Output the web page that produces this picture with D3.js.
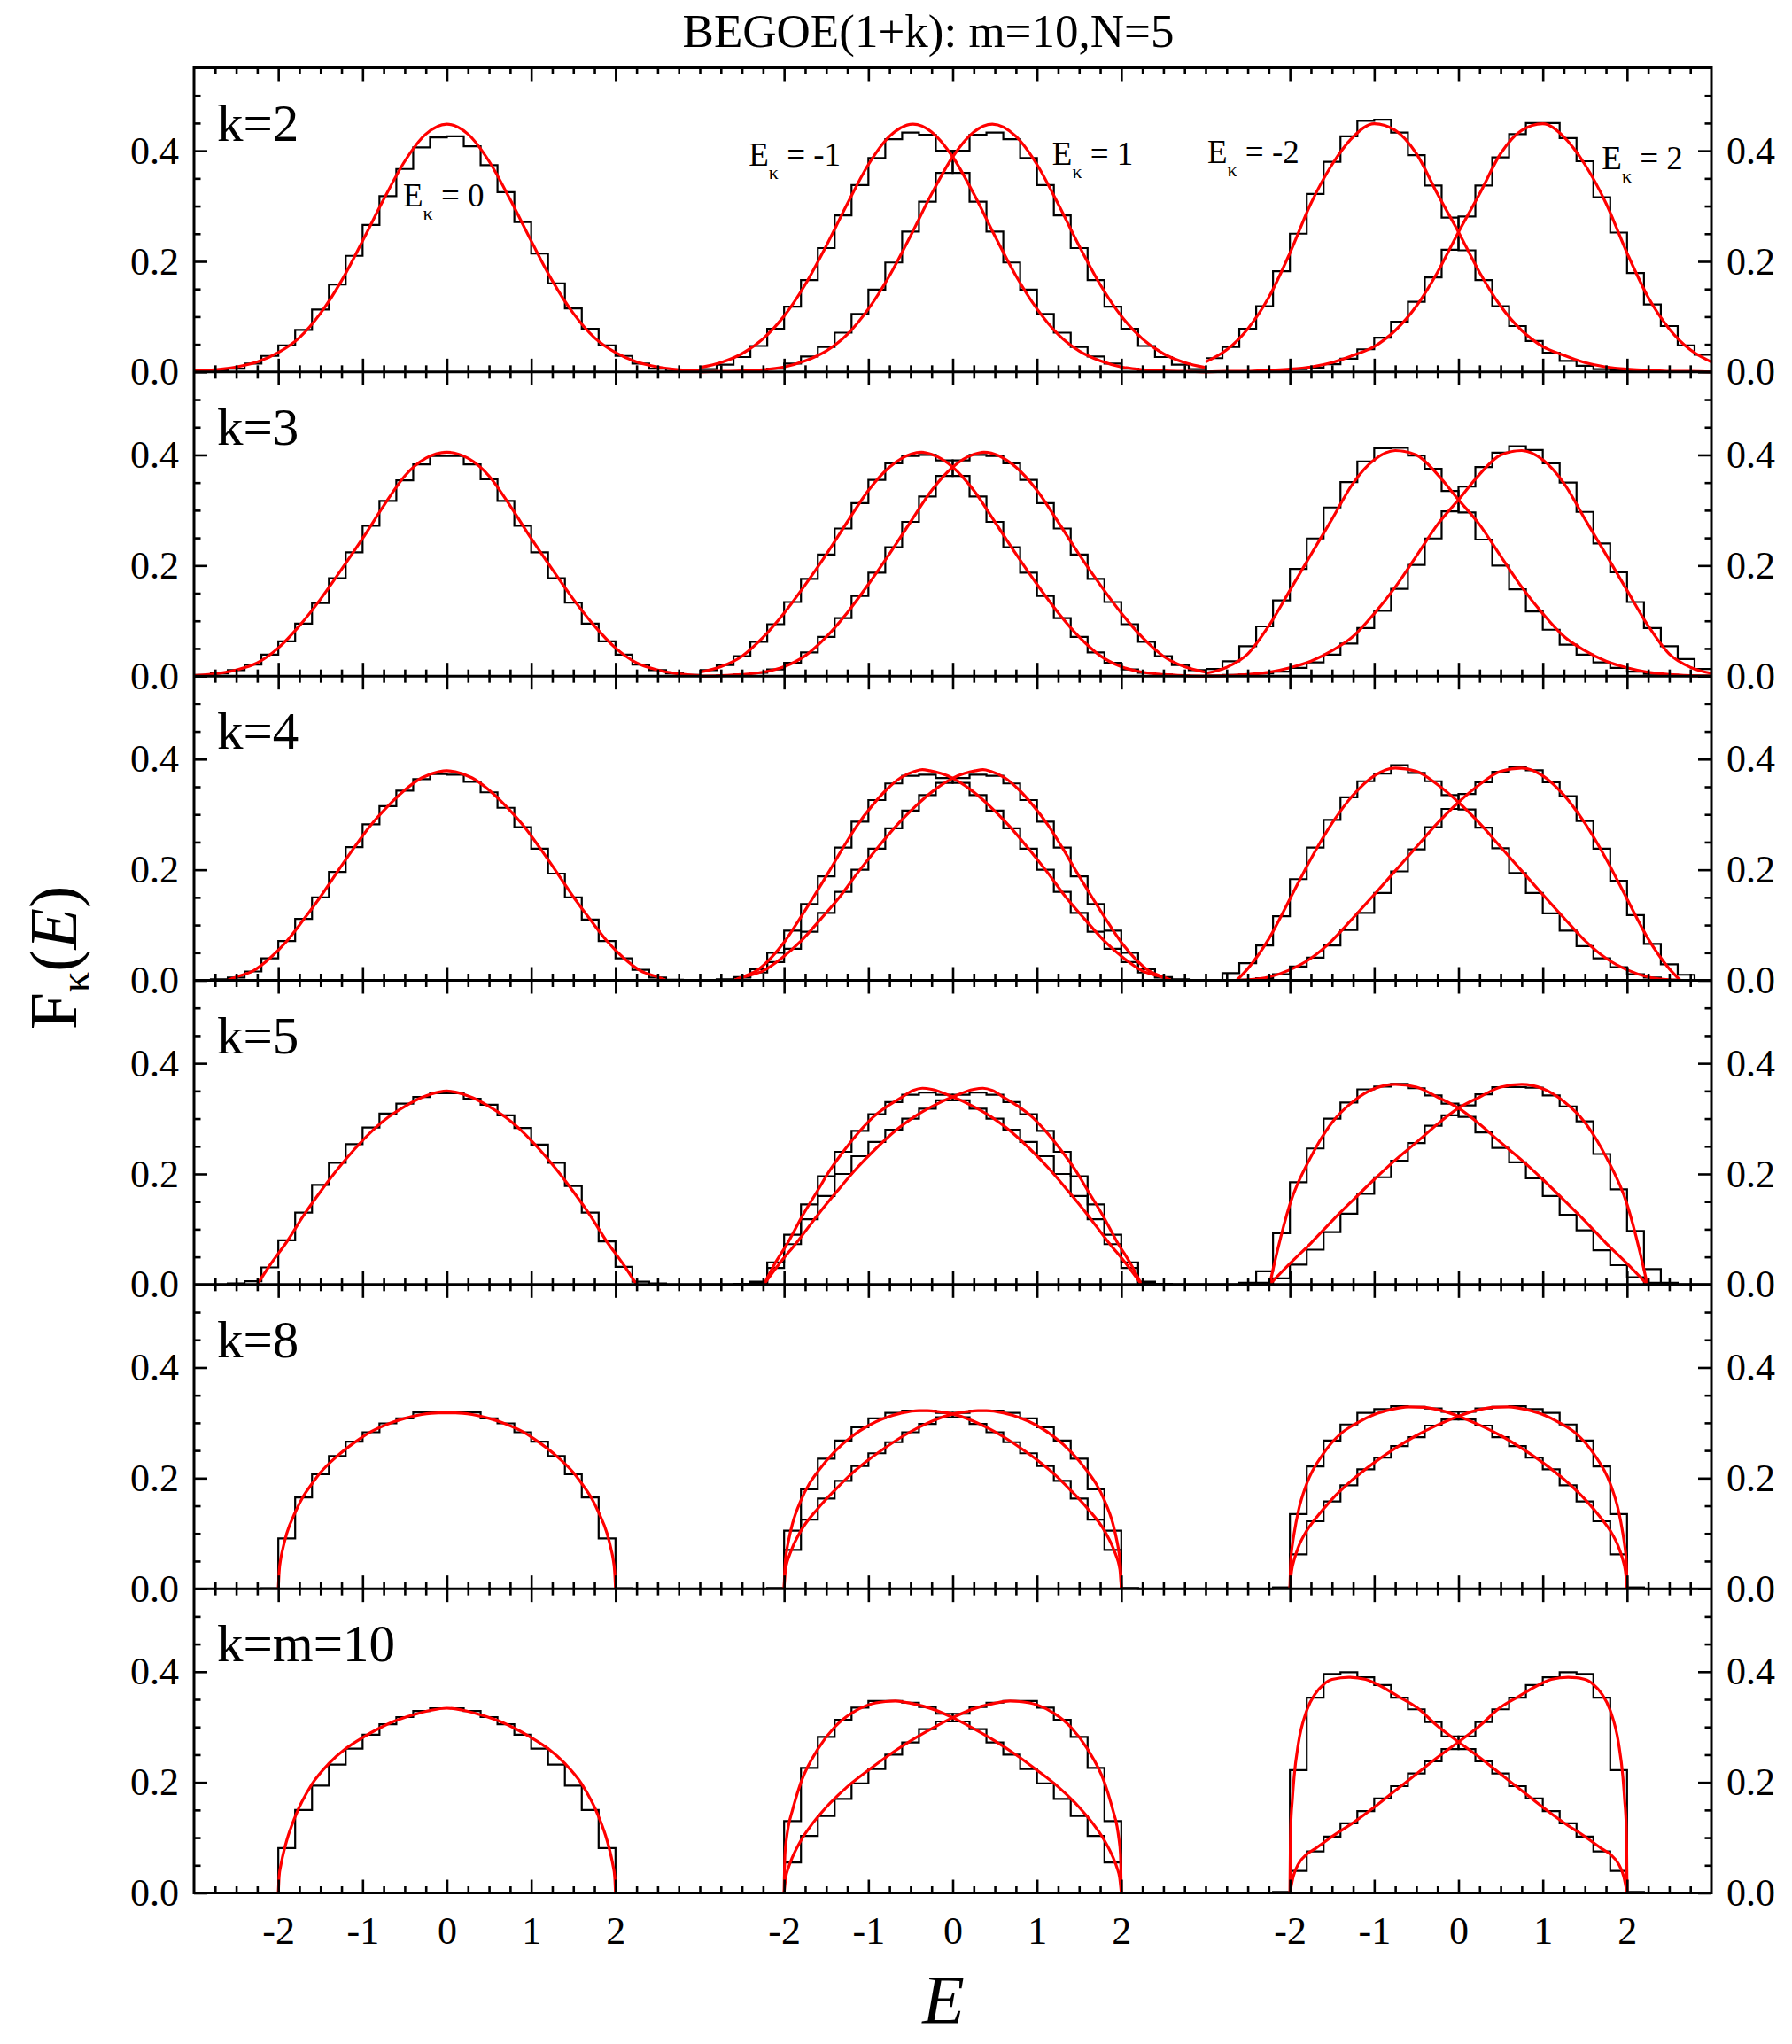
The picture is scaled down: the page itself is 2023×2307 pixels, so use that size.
<!DOCTYPE html>
<meta charset="utf-8">
<head>
<style>
body { margin: 0; background: #fff; }
text { font-family: "Liberation Serif", "Times New Roman", serif; fill: #000; }
</style>
</head>
<body>
<script src="https://d3js.org/d3.v7.min.js"></script>
<script>

// ---- data ----------------------------------------------------------------
// histograms: 30 bins of width 0.2 from -3 to 3, relative to the block centre
// fits: [E, F] pairs, E relative to the block centre

var panelLabels = ["k=2", "k=3", "k=4", "k=5", "k=8", "k=m=10"];
var blockCentre = [0, 6, 6, 12, 12];          // series order: Ek=0, -1, +1, -2, +2
var ekText = ["0", "-1", "1", "-2", "2"];
var xMajor = [-2, -1, 0, 1, 2, 4, 5, 6, 7, 8, 10, 11, 12, 13, 14];
var yMajor = [0, 0.2, 0.4];
var yMinor = [0.05, 0.1, 0.15, 0.25, 0.3, 0.35, 0.45, 0.5];

// k = 2
var h2_0  = [0.001,0.003,0.006,0.015,0.029,0.048,0.076,0.113,0.158,0.210,0.266,0.318,0.367,0.406,0.424,0.426,0.408,0.374,0.325,0.271,0.214,0.160,0.115,0.078,0.048,0.029,0.015,0.006,0.002,0.000];
var h2_m1 = [0.005,0.013,0.027,0.047,0.078,0.118,0.166,0.224,0.283,0.338,0.387,0.421,0.433,0.429,0.400,0.360,0.308,0.254,0.198,0.149,0.105,0.071,0.045,0.028,0.015,0.006,0.002,0.001,0.001,0.000];
var h2_p1 = [0.000,0.001,0.001,0.002,0.006,0.015,0.028,0.045,0.071,0.105,0.149,0.198,0.254,0.308,0.360,0.400,0.429,0.433,0.421,0.387,0.338,0.283,0.224,0.166,0.118,0.078,0.047,0.027,0.013,0.005];
var h2_m2 = [0.025,0.045,0.078,0.119,0.182,0.250,0.322,0.380,0.426,0.454,0.456,0.433,0.392,0.337,0.279,0.220,0.166,0.119,0.083,0.056,0.035,0.020,0.011,0.005,0.003,0.001,0,0,0,0];
var h2_p2 = [0,0,0,0.001,0.002,0.005,0.008,0.014,0.024,0.041,0.062,0.091,0.127,0.171,0.221,0.281,0.337,0.388,0.430,0.450,0.450,0.423,0.381,0.316,0.252,0.179,0.122,0.083,0.048,0.031];
var f2_0  = [[-3,0.002],[-2.75,0.004],[-2.5,0.009],[-2.25,0.018],[-2,0.035],[-1.75,0.062],[-1.5,0.106],[-1.25,0.165],[-1,0.237],[-0.75,0.312],[-0.5,0.381],[-0.25,0.43],[0,0.448],[0.25,0.43],[0.5,0.381],[0.75,0.312],[1,0.237],[1.25,0.165],[1.5,0.106],[1.75,0.062],[2,0.035],[2.25,0.018],[2.5,0.009],[2.75,0.004],[3,0.002]];
var f2_m1 = [[-3,0.008],[-2.75,0.017],[-2.5,0.033],[-2.25,0.06],[-2,0.101],[-1.75,0.158],[-1.5,0.228],[-1.25,0.304],[-1,0.375],[-0.75,0.426],[-0.47,0.448],[-0.25,0.434],[0,0.389],[0.25,0.322],[0.5,0.246],[0.75,0.174],[1,0.114],[1.25,0.068],[1.5,0.038],[1.75,0.02],[2,0.009],[2.25,0.004],[2.5,0.002],[2.75,0.001],[3,0]];
var f2_p1 = [[-3,0],[-2.75,0.001],[-2.5,0.002],[-2.25,0.004],[-2,0.009],[-1.75,0.02],[-1.5,0.038],[-1.25,0.068],[-1,0.114],[-0.75,0.174],[-0.5,0.246],[-0.25,0.322],[0,0.389],[0.25,0.434],[0.47,0.448],[0.75,0.426],[1,0.375],[1.25,0.304],[1.5,0.228],[1.75,0.158],[2,0.101],[2.25,0.06],[2.5,0.033],[2.75,0.017],[3,0.008]];
var f2_m2 = [[-3,0.018],[-2.75,0.04],[-2.5,0.078],[-2.25,0.135],[-2,0.215],[-1.75,0.305],[-1.5,0.375],[-1.25,0.425],[-1,0.449],[-0.75,0.437],[-0.5,0.395],[-0.25,0.322],[0,0.253],[0.25,0.18],[0.5,0.119],[0.75,0.075],[1,0.046],[1.25,0.03],[1.5,0.017],[1.75,0.009],[2,0.005],[2.25,0.003],[2.5,0.001],[2.75,0.001],[3,0]];
var f2_p2 = [[-3,0],[-2.75,0.001],[-2.5,0.001],[-2.25,0.003],[-2,0.005],[-1.75,0.009],[-1.5,0.017],[-1.25,0.03],[-1,0.046],[-0.75,0.075],[-0.5,0.119],[-0.25,0.18],[0,0.253],[0.25,0.322],[0.5,0.395],[0.75,0.437],[1,0.449],[1.25,0.425],[1.5,0.375],[1.75,0.305],[2,0.215],[2.25,0.135],[2.5,0.078],[2.75,0.04],[3,0.018]];

// k = 3
var h3_0  = [0.002,0.005,0.011,0.021,0.039,0.063,0.095,0.132,0.177,0.224,0.272,0.317,0.354,0.383,0.398,0.398,0.383,0.356,0.317,0.272,0.224,0.177,0.133,0.095,0.063,0.039,0.021,0.011,0.005,0.002];
var h3_m1 = [0.011,0.020,0.036,0.062,0.094,0.134,0.176,0.220,0.267,0.313,0.355,0.385,0.398,0.400,0.390,0.362,0.325,0.279,0.233,0.187,0.145,0.105,0.071,0.043,0.024,0.012,0.006,0.003,0.001,0.000];
var h3_p1 = [0.000,0.001,0.003,0.006,0.012,0.024,0.043,0.071,0.105,0.145,0.187,0.233,0.279,0.325,0.362,0.390,0.400,0.398,0.385,0.355,0.313,0.267,0.220,0.176,0.134,0.094,0.062,0.036,0.020,0.011];
var h3_m2 = [0.013,0.027,0.054,0.090,0.137,0.194,0.249,0.305,0.351,0.388,0.412,0.413,0.399,0.375,0.335,0.296,0.247,0.200,0.157,0.117,0.084,0.057,0.039,0.025,0.015,0.008,0.004,0.002,0.001,0.001];
var h3_p2 = [0.001,0.002,0.003,0.005,0.008,0.015,0.025,0.039,0.059,0.087,0.118,0.158,0.201,0.249,0.298,0.343,0.378,0.404,0.416,0.409,0.385,0.350,0.297,0.240,0.188,0.134,0.087,0.054,0.031,0.013];
var f3_0  = [[-3,0.001],[-2.75,0.004],[-2.5,0.011],[-2.25,0.024],[-2,0.051],[-1.75,0.091],[-1.5,0.139],[-1.25,0.193],[-1,0.249],[-0.75,0.308],[-0.5,0.362],[-0.25,0.394],[0,0.405],[0.25,0.394],[0.5,0.362],[0.75,0.308],[1,0.249],[1.25,0.193],[1.5,0.139],[1.75,0.091],[2,0.051],[2.25,0.024],[2.5,0.011],[2.75,0.004],[3,0.001]];
var f3_m1 = [[-3,0.007],[-2.75,0.017],[-2.5,0.036],[-2.25,0.07],[-2,0.114],[-1.75,0.165],[-1.5,0.22],[-1.25,0.279],[-1,0.336],[-0.75,0.378],[-0.37,0.405],[-0.25,0.401],[0,0.378],[0.25,0.336],[0.5,0.279],[0.75,0.221],[1,0.166],[1.25,0.115],[1.5,0.071],[1.75,0.037],[2,0.017],[2.25,0.007],[2.5,0.003],[2.75,0.001],[3,0]];
var f3_p1 = [[-3,0],[-2.75,0.001],[-2.5,0.003],[-2.25,0.007],[-2,0.017],[-1.75,0.037],[-1.5,0.071],[-1.25,0.115],[-1,0.166],[-0.75,0.221],[-0.5,0.279],[-0.25,0.336],[0,0.378],[0.25,0.401],[0.37,0.405],[0.75,0.378],[1,0.336],[1.25,0.279],[1.5,0.22],[1.75,0.165],[2,0.114],[2.25,0.07],[2.5,0.036],[2.75,0.017],[3,0.007]];
var f3_m2 = [[-3,0.005],[-2.75,0.016],[-2.5,0.04],[-2.25,0.091],[-2,0.155],[-1.75,0.22],[-1.5,0.284],[-1.25,0.349],[-1,0.391],[-0.75,0.408],[-0.5,0.4],[-0.25,0.365],[0,0.319],[0.25,0.274],[0.5,0.217],[0.75,0.161],[1,0.113],[1.25,0.072],[1.5,0.046],[1.75,0.027],[2,0.015],[2.25,0.007],[2.5,0.003],[2.75,0.001],[3,0]];
var f3_p2 = [[-3,0],[-2.75,0.001],[-2.5,0.003],[-2.25,0.007],[-2,0.015],[-1.75,0.027],[-1.5,0.046],[-1.25,0.072],[-1,0.113],[-0.75,0.161],[-0.5,0.217],[-0.25,0.274],[0,0.319],[0.25,0.365],[0.5,0.4],[0.75,0.408],[1,0.391],[1.25,0.349],[1.5,0.284],[1.75,0.22],[2,0.155],[2.25,0.091],[2.5,0.04],[2.75,0.016],[3,0.005]];

// k = 4
var h4_0  = [0,0.002,0.005,0.016,0.040,0.071,0.111,0.150,0.196,0.241,0.282,0.315,0.343,0.364,0.373,0.372,0.359,0.340,0.312,0.277,0.238,0.193,0.150,0.110,0.071,0.040,0.019,0.005,0.001,0];
var h4_m1 = [0,0,0.006,0.020,0.050,0.090,0.138,0.188,0.240,0.287,0.326,0.356,0.370,0.372,0.366,0.357,0.335,0.307,0.275,0.238,0.200,0.160,0.122,0.088,0.057,0.033,0.014,0.005,0.002,0];
var h4_p1 = [0,0.002,0.005,0.014,0.033,0.057,0.088,0.122,0.160,0.200,0.238,0.275,0.307,0.335,0.357,0.366,0.372,0.370,0.356,0.326,0.287,0.240,0.188,0.138,0.090,0.050,0.020,0.006,0,0];
var h4_m2 = [0,0.013,0.031,0.063,0.116,0.183,0.240,0.290,0.331,0.360,0.374,0.389,0.375,0.360,0.335,0.309,0.276,0.239,0.194,0.158,0.121,0.090,0.062,0.040,0.024,0.011,0.005,0.001,0,0];
var h4_p2 = [0,0,0.001,0.004,0.011,0.025,0.041,0.063,0.091,0.122,0.158,0.197,0.237,0.277,0.310,0.337,0.358,0.377,0.385,0.380,0.358,0.333,0.288,0.238,0.180,0.118,0.066,0.029,0.010,0];
var f4_0  = [[-2.6,0],[-2.5,0.006],[-2.3,0.017],[-2.1,0.04],[-1.9,0.071],[-1.7,0.11],[-1.5,0.151],[-1.3,0.196],[-1.1,0.24],[-0.9,0.281],[-0.7,0.315],[-0.5,0.344],[-0.3,0.366],[-0.1,0.377],[0,0.379],[0.1,0.377],[0.3,0.366],[0.5,0.344],[0.7,0.315],[0.9,0.281],[1.1,0.24],[1.3,0.196],[1.5,0.151],[1.7,0.11],[1.9,0.071],[2.1,0.04],[2.3,0.017],[2.5,0.006],[2.6,0]];
var f4_m1 = [[-2.59,0],[-2.5,0.006],[-2.33,0.017],[-2.16,0.04],[-1.99,0.071],[-1.82,0.11],[-1.65,0.151],[-1.47,0.196],[-1.3,0.24],[-1.13,0.281],[-0.96,0.315],[-0.79,0.344],[-0.62,0.366],[-0.45,0.378],[-0.36,0.381],[-0.27,0.379],[-0.02,0.367],[0.21,0.345],[0.44,0.315],[0.66,0.281],[0.89,0.24],[1.12,0.196],[1.34,0.151],[1.57,0.11],[1.8,0.071],[2.03,0.04],[2.25,0.017],[2.48,0.006],[2.59,0]];
var f4_p1 = [[-2.59,0],[-2.48,0.006],[-2.25,0.017],[-2.03,0.04],[-1.8,0.071],[-1.57,0.11],[-1.34,0.151],[-1.12,0.196],[-0.89,0.24],[-0.66,0.281],[-0.44,0.315],[-0.21,0.345],[0.02,0.367],[0.27,0.379],[0.36,0.381],[0.45,0.378],[0.62,0.366],[0.79,0.344],[0.96,0.315],[1.13,0.281],[1.3,0.24],[1.47,0.196],[1.65,0.151],[1.82,0.11],[1.99,0.071],[2.16,0.04],[2.33,0.017],[2.5,0.006],[2.59,0]];
var f4_m2 = [[-2.63,0],[-2.5,0.021],[-2.25,0.075],[-2,0.147],[-1.75,0.22],[-1.5,0.284],[-1.25,0.335],[-1,0.37],[-0.75,0.384],[-0.5,0.378],[-0.25,0.354],[0,0.322],[0.25,0.284],[0.5,0.241],[0.75,0.198],[1,0.155],[1.25,0.113],[1.5,0.072],[1.75,0.04],[2,0.019],[2.25,0.006],[2.5,0.001],[2.63,0]];
var f4_p2 = [[-2.63,0],[-2.5,0.001],[-2.25,0.006],[-2,0.019],[-1.75,0.04],[-1.5,0.072],[-1.25,0.113],[-1,0.155],[-0.75,0.198],[-0.5,0.241],[-0.25,0.284],[0,0.322],[0.25,0.354],[0.5,0.378],[0.75,0.384],[1,0.37],[1.25,0.335],[1.5,0.284],[1.75,0.22],[2,0.147],[2.25,0.075],[2.5,0.021],[2.63,0]];

// k = 5
var h5_0  = [0,0,0.002,0.006,0.031,0.080,0.130,0.180,0.220,0.254,0.284,0.309,0.327,0.339,0.346,0.346,0.336,0.325,0.306,0.283,0.253,0.220,0.178,0.130,0.078,0.032,0.005,0.002,0,0];
var h5_m1 = [0,0,0,0.003,0.040,0.090,0.145,0.196,0.240,0.278,0.308,0.330,0.343,0.347,0.343,0.333,0.318,0.300,0.280,0.258,0.232,0.200,0.160,0.118,0.073,0.030,0.005,0.001,0,0];
var h5_p1 = [0,0,0.001,0.005,0.030,0.073,0.118,0.160,0.200,0.232,0.258,0.280,0.300,0.318,0.333,0.343,0.347,0.343,0.330,0.308,0.278,0.240,0.196,0.145,0.090,0.040,0.003,0,0,0];
var h5_m2 = [0,0,0.003,0.024,0.093,0.185,0.246,0.300,0.329,0.353,0.358,0.363,0.355,0.342,0.327,0.303,0.275,0.247,0.221,0.192,0.160,0.126,0.098,0.062,0.035,0.013,0.003,0,0,0];
var h5_p2 = [0,0,0.001,0.003,0.011,0.036,0.063,0.095,0.128,0.164,0.194,0.224,0.256,0.287,0.306,0.324,0.344,0.357,0.357,0.356,0.342,0.322,0.295,0.236,0.172,0.097,0.028,0.003,0,0];
var f5_0  = [[-2.25,0],[-2.1,0.035],[-1.9,0.077],[-1.7,0.125],[-1.5,0.168],[-1.3,0.208],[-1.1,0.244],[-0.9,0.276],[-0.7,0.302],[-0.5,0.322],[-0.3,0.338],[-0.1,0.348],[0,0.35],[0.1,0.348],[0.3,0.338],[0.5,0.322],[0.7,0.302],[0.9,0.276],[1.1,0.244],[1.3,0.208],[1.5,0.168],[1.7,0.125],[1.9,0.077],[2.1,0.035],[2.25,0]];
var f5_m1 = [[-2.24,0],[-2.12,0.035],[-1.95,0.077],[-1.78,0.125],[-1.61,0.168],[-1.45,0.208],[-1.28,0.244],[-1.11,0.276],[-0.95,0.302],[-0.78,0.322],[-0.61,0.338],[-0.47,0.351],[-0.36,0.355],[-0.25,0.353],[-0.01,0.34],[0.22,0.324],[0.45,0.304],[0.68,0.278],[0.91,0.246],[1.14,0.21],[1.37,0.169],[1.6,0.126],[1.84,0.078],[2.07,0.035],[2.24,0]];
var f5_p1 = [[-2.24,0],[-2.07,0.035],[-1.84,0.078],[-1.6,0.126],[-1.37,0.169],[-1.14,0.21],[-0.91,0.246],[-0.68,0.278],[-0.45,0.304],[-0.22,0.324],[0.01,0.34],[0.25,0.353],[0.36,0.355],[0.47,0.351],[0.61,0.338],[0.78,0.322],[0.95,0.302],[1.11,0.276],[1.28,0.244],[1.45,0.208],[1.61,0.168],[1.78,0.125],[1.95,0.077],[2.12,0.035],[2.24,0]];
var f5_m2 = [[-2.24,0],[-2.15,0.06],[-2,0.145],[-1.75,0.231],[-1.5,0.293],[-1.25,0.331],[-1,0.354],[-0.75,0.362],[-0.5,0.357],[-0.25,0.339],[0,0.319],[0.25,0.29],[0.5,0.257],[0.75,0.225],[1,0.19],[1.25,0.153],[1.5,0.115],[1.75,0.075],[2,0.038],[2.24,0]];
var f5_p2 = [[-2.24,0],[-2,0.038],[-1.75,0.075],[-1.5,0.115],[-1.25,0.153],[-1,0.19],[-0.75,0.225],[-0.5,0.257],[-0.25,0.29],[0,0.319],[0.25,0.339],[0.5,0.357],[0.75,0.362],[1,0.354],[1.25,0.331],[1.5,0.293],[1.75,0.231],[2,0.145],[2.15,0.06],[2.24,0]];

// k = 8
var h8_0  = [0,0,0,0,0.001,0.091,0.165,0.207,0.240,0.266,0.283,0.299,0.308,0.319,0.319,0.319,0.319,0.308,0.299,0.283,0.266,0.240,0.207,0.165,0.091,0.001,0,0,0,0];
var h8_m1 = [0,0,0,0,0.001,0.105,0.180,0.235,0.268,0.292,0.308,0.318,0.322,0.322,0.318,0.310,0.298,0.283,0.265,0.245,0.222,0.195,0.163,0.125,0.070,0.001,0,0,0,0];
var h8_p1 = [0,0,0,0,0.001,0.070,0.125,0.163,0.195,0.222,0.245,0.265,0.283,0.298,0.310,0.318,0.322,0.322,0.318,0.308,0.292,0.268,0.235,0.180,0.105,0.001,0,0,0,0];
var h8_m2 = [0,0,0,0,0.002,0.135,0.221,0.268,0.297,0.318,0.325,0.330,0.329,0.326,0.320,0.306,0.295,0.274,0.258,0.237,0.216,0.187,0.158,0.122,0.062,0.002,0,0,0,0];
var h8_p2 = [0,0,0,0,0.002,0.062,0.122,0.158,0.187,0.216,0.237,0.258,0.274,0.295,0.306,0.320,0.326,0.329,0.330,0.325,0.318,0.297,0.268,0.221,0.135,0.002,0,0,0,0];
var f8_0  = [[-2,0],[-1.99,0.03],[-1.97,0.055],[-1.95,0.07],[-1.9,0.1],[-1.8,0.138],[-1.7,0.168],[-1.6,0.19],[-1.5,0.21],[-1.3,0.24],[-1.1,0.264],[-0.9,0.284],[-0.7,0.298],[-0.5,0.308],[-0.3,0.315],[-0.1,0.318],[0.1,0.318],[0.3,0.315],[0.5,0.308],[0.7,0.298],[0.9,0.284],[1.1,0.264],[1.3,0.24],[1.5,0.21],[1.6,0.19],[1.7,0.168],[1.8,0.138],[1.9,0.1],[1.95,0.07],[1.97,0.055],[1.99,0.03],[2,0]];
var f8_m1 = [[-2,0],[-1.99,0.04],[-1.97,0.068],[-1.95,0.085],[-1.9,0.118],[-1.8,0.16],[-1.7,0.19],[-1.6,0.212],[-1.4,0.248],[-1.2,0.275],[-1,0.295],[-0.8,0.309],[-0.6,0.318],[-0.4,0.322],[-0.3,0.322],[-0.2,0.321],[0,0.316],[0.2,0.306],[0.4,0.292],[0.6,0.275],[0.8,0.255],[1,0.233],[1.2,0.208],[1.4,0.178],[1.6,0.145],[1.8,0.105],[1.9,0.075],[1.95,0.055],[1.97,0.045],[1.99,0.025],[2,0]];
var f8_p1 = [[-2,0],[-1.99,0.025],[-1.97,0.045],[-1.95,0.055],[-1.9,0.075],[-1.8,0.105],[-1.6,0.145],[-1.4,0.178],[-1.2,0.208],[-1,0.233],[-0.8,0.255],[-0.6,0.275],[-0.4,0.292],[-0.2,0.306],[0,0.316],[0.2,0.321],[0.3,0.322],[0.4,0.322],[0.6,0.318],[0.8,0.309],[1,0.295],[1.2,0.275],[1.4,0.248],[1.6,0.212],[1.7,0.19],[1.8,0.16],[1.9,0.118],[1.95,0.085],[1.97,0.068],[1.99,0.04],[2,0]];
var f8_m2 = [[-2,0],[-1.99,0.05],[-1.97,0.08],[-1.95,0.1],[-1.9,0.14],[-1.8,0.19],[-1.6,0.245],[-1.4,0.28],[-1.2,0.3],[-1,0.315],[-0.8,0.324],[-0.6,0.329],[-0.4,0.328],[-0.2,0.322],[0,0.312],[0.25,0.296],[0.5,0.277],[0.75,0.254],[1,0.228],[1.25,0.198],[1.5,0.162],[1.7,0.126],[1.8,0.105],[1.9,0.075],[1.95,0.052],[1.98,0.032],[2,0]];
var f8_p2 = [[-2,0],[-1.98,0.032],[-1.95,0.052],[-1.9,0.075],[-1.8,0.105],[-1.7,0.126],[-1.5,0.162],[-1.25,0.198],[-1,0.228],[-0.75,0.254],[-0.5,0.277],[-0.25,0.296],[0,0.312],[0.2,0.322],[0.4,0.328],[0.6,0.329],[0.8,0.324],[1,0.315],[1.2,0.3],[1.4,0.28],[1.6,0.245],[1.8,0.19],[1.9,0.14],[1.95,0.1],[1.97,0.08],[1.99,0.05],[2,0]];

// k = m = 10
var h10_0  = [0,0,0,0,0,0.081,0.150,0.194,0.232,0.261,0.286,0.305,0.318,0.329,0.334,0.334,0.329,0.318,0.305,0.286,0.261,0.232,0.194,0.150,0.081,0,0,0,0,0];
var h10_m1 = [0,0,0,0,0,0.130,0.226,0.282,0.313,0.335,0.347,0.347,0.344,0.336,0.324,0.310,0.296,0.272,0.250,0.224,0.198,0.170,0.139,0.103,0.055,0,0,0,0,0];
var h10_p1 = [0,0,0,0,0,0.055,0.103,0.139,0.170,0.198,0.224,0.250,0.272,0.296,0.310,0.324,0.336,0.344,0.347,0.347,0.335,0.313,0.282,0.226,0.130,0,0,0,0,0];
var h10_m2 = [0,0,0,0,0.002,0.222,0.353,0.396,0.399,0.390,0.376,0.353,0.332,0.309,0.283,0.260,0.238,0.216,0.193,0.171,0.148,0.126,0.102,0.075,0.040,0,0,0,0,0];
var h10_p2 = [0,0,0,0,0,0.040,0.075,0.102,0.126,0.148,0.171,0.193,0.216,0.238,0.260,0.283,0.309,0.332,0.353,0.376,0.390,0.399,0.396,0.353,0.222,0.002,0,0,0,0];
var f10_0  = [[-2,0],[-1.99,0.03],[-1.97,0.05],[-1.95,0.065],[-1.9,0.095],[-1.8,0.138],[-1.6,0.197],[-1.4,0.234],[-1.2,0.261],[-1,0.281],[-0.8,0.298],[-0.6,0.312],[-0.4,0.322],[-0.2,0.33],[0,0.334],[0.2,0.33],[0.4,0.322],[0.6,0.312],[0.8,0.298],[1,0.281],[1.2,0.261],[1.4,0.234],[1.6,0.197],[1.8,0.138],[1.9,0.095],[1.95,0.065],[1.97,0.05],[1.99,0.03],[2,0]];
var f10_m1 = [[-2,0],[-1.99,0.07],[-1.97,0.1],[-1.95,0.12],[-1.9,0.15],[-1.8,0.2],[-1.6,0.26],[-1.4,0.3],[-1.2,0.325],[-1,0.34],[-0.8,0.346],[-0.68,0.347],[-0.5,0.343],[-0.25,0.333],[0,0.317],[0.25,0.297],[0.5,0.275],[0.75,0.25],[1,0.222],[1.25,0.192],[1.5,0.155],[1.7,0.118],[1.8,0.095],[1.9,0.065],[1.95,0.045],[1.98,0.028],[2,0]];
var f10_p1 = [[-2,0],[-1.98,0.028],[-1.95,0.045],[-1.9,0.065],[-1.8,0.095],[-1.7,0.118],[-1.5,0.155],[-1.25,0.192],[-1,0.222],[-0.75,0.25],[-0.5,0.275],[-0.25,0.297],[0,0.317],[0.25,0.333],[0.5,0.343],[0.68,0.347],[0.8,0.346],[1,0.34],[1.2,0.325],[1.4,0.3],[1.6,0.26],[1.8,0.2],[1.9,0.15],[1.95,0.12],[1.97,0.1],[1.99,0.07],[2,0]];
var f10_m2 = [[-2,0],[-1.995,0.08],[-1.99,0.12],[-1.97,0.17],[-1.95,0.21],[-1.9,0.27],[-1.8,0.33],[-1.7,0.36],[-1.6,0.377],[-1.5,0.386],[-1.3,0.39],[-1.1,0.386],[-0.9,0.372],[-0.7,0.354],[-0.5,0.336],[-0.25,0.302],[0,0.273],[0.25,0.245],[0.5,0.215],[0.75,0.185],[1,0.155],[1.25,0.127],[1.5,0.102],[1.7,0.08],[1.8,0.07],[1.9,0.052],[1.96,0.03],[2,0]];
var f10_p2 = [[-2,0],[-1.96,0.03],[-1.9,0.052],[-1.8,0.07],[-1.7,0.08],[-1.5,0.102],[-1.25,0.127],[-1,0.155],[-0.75,0.185],[-0.5,0.215],[-0.25,0.245],[0,0.273],[0.25,0.302],[0.5,0.336],[0.7,0.354],[0.9,0.372],[1.1,0.386],[1.3,0.39],[1.5,0.386],[1.6,0.377],[1.7,0.36],[1.8,0.33],[1.9,0.27],[1.95,0.21],[1.97,0.17],[1.99,0.12],[1.995,0.08],[2,0]];

var panels = [
  {hist: [h2_0, h2_m1, h2_p1, h2_m2, h2_p2],       fit: [f2_0, f2_m1, f2_p1, f2_m2, f2_p2]},
  {hist: [h3_0, h3_m1, h3_p1, h3_m2, h3_p2],       fit: [f3_0, f3_m1, f3_p1, f3_m2, f3_p2]},
  {hist: [h4_0, h4_m1, h4_p1, h4_m2, h4_p2],       fit: [f4_0, f4_m1, f4_p1, f4_m2, f4_p2]},
  {hist: [h5_0, h5_m1, h5_p1, h5_m2, h5_p2],       fit: [f5_0, f5_m1, f5_p1, f5_m2, f5_p2]},
  {hist: [h8_0, h8_m1, h8_p1, h8_m2, h8_p2],       fit: [f8_0, f8_m1, f8_p1, f8_m2, f8_p2]},
  {hist: [h10_0, h10_m1, h10_p1, h10_m2, h10_p2],  fit: [f10_0, f10_m1, f10_p1, f10_m2, f10_p2]}
];

// ---- layout ----------------------------------------------------------------
var W = 2023, H = 2307;
var L = 219, R = 1932, T = 76.5, B = 2136.5;
var ph = (B - T) / panels.length;

var svg = d3.select("body").append("svg")
    .attr("width", W)
    .attr("height", H);

svg.append("rect").attr("width", W).attr("height", H).attr("fill", "#fff");

var x = d3.scaleLinear().domain([-3, 15]).range([L, R]);

var xMinor = d3.range(-2.75, 15, 0.25).filter(function (v) { return xMajor.indexOf(v) < 0; });

function relLabel(v) {
  var c = Math.round(v / 6) * 6;
  return String(v - c);
}

function styleAxis(g, fs) {
  g.select(".domain").remove();
  g.selectAll("line").attr("stroke", "#000").attr("stroke-width", 2.6);
  g.selectAll("text")
    .attr("font-family", "'Liberation Serif', 'Times New Roman', serif")
    .attr("font-size", fs)
    .attr("fill", "#000");
}

panels.forEach(function (p, i) {
  var top = T + i * ph, bot = top + ph;
  var y = d3.scaleLinear().domain([0, 0.55]).range([bot, top]);
  var g = svg.append("g");

  // histograms
  var step = d3.line()
      .x(function (d) { return x(d[0]); })
      .y(function (d) { return y(d[1]); })
      .curve(d3.curveStepAfter);

  p.hist.forEach(function (h, j) {
    var c = blockCentre[j];
    var pts = h.map(function (v, b) { return [c - 3 + b * 0.2, v]; });
    pts.push([c + 3, h[h.length - 1]]);
    g.append("path")
      .attr("d", step(pts))
      .attr("fill", "none")
      .attr("stroke", "#000")
      .attr("stroke-width", 2.2);
  });

  // fitted curves
  p.fit.forEach(function (f, j) {
    var c = blockCentre[j];
    var line = d3.line()
        .x(function (d) { return x(c + d[0]); })
        .y(function (d) { return y(d[1]); })
        .curve(d3.curveMonotoneX);
    g.append("path")
      .attr("d", line(f))
      .attr("fill", "none")
      .attr("stroke", "#ff0000")
      .attr("stroke-width", 3.2)
      .attr("stroke-linejoin", "round");
  });

  // x ticks, pointing into the panel from top and bottom
  var gb = g.append("g").attr("transform", "translate(0," + bot + ")")
      .call(d3.axisBottom(x).tickValues(xMajor).tickSize(-15).tickPadding(26)
        .tickFormat(i === panels.length - 1 ? relLabel : function () { return ""; }));
  styleAxis(gb, 44);
  styleAxis(g.append("g").attr("transform", "translate(0," + bot + ")")
      .call(d3.axisBottom(x).tickValues(xMinor).tickSize(-7.5).tickFormat("")), 44);
  styleAxis(g.append("g").attr("transform", "translate(0," + top + ")")
      .call(d3.axisTop(x).tickValues(xMajor).tickSize(-15).tickFormat("")), 44);
  styleAxis(g.append("g").attr("transform", "translate(0," + top + ")")
      .call(d3.axisTop(x).tickValues(xMinor).tickSize(-7.5).tickFormat("")), 44);

  // y ticks, both sides
  styleAxis(g.append("g").attr("transform", "translate(" + L + ",0)")
      .call(d3.axisLeft(y).tickValues(yMajor).tickSize(-15).tickPadding(17).tickFormat(d3.format(".1f"))), 44);
  styleAxis(g.append("g").attr("transform", "translate(" + L + ",0)")
      .call(d3.axisLeft(y).tickValues(yMinor).tickSize(-7.5).tickFormat("")), 44);
  styleAxis(g.append("g").attr("transform", "translate(" + R + ",0)")
      .call(d3.axisRight(y).tickValues(yMajor).tickSize(-15).tickPadding(17).tickFormat(d3.format(".1f"))), 44);
  styleAxis(g.append("g").attr("transform", "translate(" + R + ",0)")
      .call(d3.axisRight(y).tickValues(yMinor).tickSize(-7.5).tickFormat("")), 44);

  // panel separator
  g.append("line")
    .attr("x1", L).attr("x2", R).attr("y1", bot).attr("y2", bot)
    .attr("stroke", "#000").attr("stroke-width", 3);

  // k label
  g.append("text")
    .attr("x", L + 26)
    .attr("y", top + 82)
    .attr("font-size", 59)
    .text(panelLabels[i]);

  // Ek labels in the first panel
  if (i === 0) {
    var ekX = [-0.52, 3.58, 7.18, 9.02, 13.70];
    var ekY = [0.30, 0.373, 0.375, 0.378, 0.367];
    ekText.forEach(function (s, j) {
      var t = g.append("text")
          .attr("x", x(ekX[j]))
          .attr("y", y(ekY[j]))
          .attr("font-size", 37);
      t.append("tspan").text("E");
      t.append("tspan").attr("font-size", 22).attr("dy", 15).text("\u03ba");
      t.append("tspan").attr("dy", -15).text(" = " + s);
    });
  }
});

// frame
svg.append("rect")
  .attr("x", L).attr("y", T)
  .attr("width", R - L).attr("height", B - T)
  .attr("fill", "none")
  .attr("stroke", "#000")
  .attr("stroke-width", 3);

// title
svg.append("text")
  .attr("x", 1048).attr("y", 53)
  .attr("text-anchor", "middle")
  .attr("font-size", 53)
  .text("BEGOE(1+k): m=10,N=5");

// axis titles
svg.append("text")
  .attr("x", 1065).attr("y", 2283)
  .attr("text-anchor", "middle")
  .attr("font-size", 78)
  .attr("font-style", "italic")
  .text("E");

var yt = svg.append("text")
    .attr("transform", "translate(86,1081) rotate(-90)")
    .attr("text-anchor", "middle")
    .attr("font-size", 76);
yt.append("tspan").text("F");
yt.append("tspan").attr("font-size", 46).attr("dy", 14).text("\u03ba");
yt.append("tspan").attr("dy", -14).text("(");
yt.append("tspan").attr("font-style", "italic").text("E");
yt.append("tspan").text(")");

</script>
</body>
